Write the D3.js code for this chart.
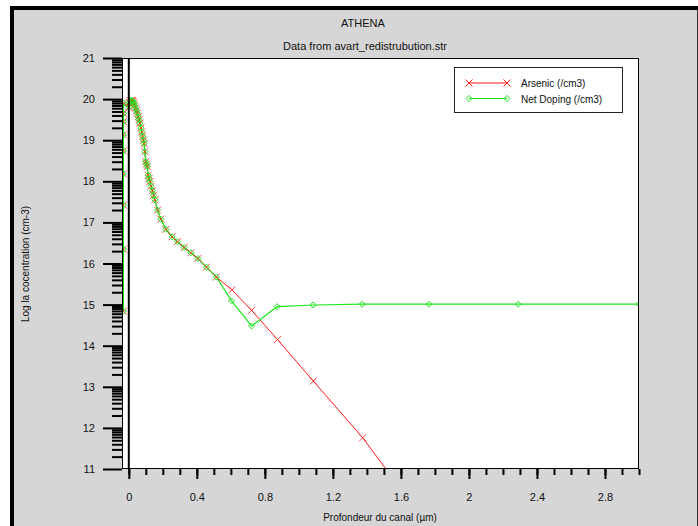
<!DOCTYPE html>
<html>
<head>
<meta charset="utf-8">
<script src="https://cdn.jsdelivr.net/npm/d3@7"></script>
<style>
  body { margin: 0; background: #fff; }
  svg text { font-family: "Liberation Sans", Arial, sans-serif; fill: #111; }
</style>
</head>
<body>
<svg id="chart" width="698" height="526"></svg>
<script>
// Depth (um) and log concentration values
var oxideDepth = [-0.032, -0.032, -0.032, -0.032, -0.032, -0.032, -0.032, -0.032, -0.032];
var oxideConc  = [14.84, 16.35, 17.42, 18.18, 18.74, 19.13, 19.45, 19.65, 19.90];

var depth   = [0.000, 0.005, 0.010, 0.015, 0.020, 0.025, 0.030, 0.035, 0.040, 0.045, 0.050, 0.055,
               0.060, 0.065, 0.071, 0.076, 0.081, 0.086, 0.090, 0.094, 0.100, 0.104, 0.108, 0.114,
               0.119, 0.124, 0.131, 0.139, 0.146, 0.153, 0.169, 0.188, 0.218,
               0.255, 0.286, 0.325, 0.365, 0.406, 0.456, 0.515];
var sharedConc = [19.80, 19.92, 19.96, 19.97, 19.96, 19.94, 19.90, 19.84, 19.78, 19.72, 19.66, 19.57,
               19.50, 19.41, 19.30, 19.20, 19.10, 19.00, 18.92, 18.72, 18.48, 18.42, 18.36, 18.15,
               18.07, 17.99, 17.88, 17.77, 17.66, 17.55, 17.30, 17.08, 16.83,
               16.65, 16.53, 16.39, 16.26, 16.12, 15.91, 15.67];

var arsenicTailDepth = [0.606, 0.722, 0.874, 1.085, 1.375, 1.765];
var arsenicTailConc  = [15.36, 14.86, 14.15, 13.14, 11.76, 9.60];

var dopingTailDepth = [0.604, 0.722, 0.872, 1.084, 1.372, 1.765, 2.290, 3.000];
var dopingTailConc  = [15.09, 14.48, 14.95, 14.99, 15.01, 15.01, 15.01, 15.01];

var xTicks = [0, 0.4, 0.8, 1.2, 1.6, 2, 2.4, 2.8];
var yTicks = [11, 12, 13, 14, 15, 16, 17, 18, 19, 20, 21];

var seriesNames = ["Arsenic (/cm3)", "Net Doping (/cm3)"];
var seriesColors = ["#ff1a1a", "#1ee61e"];

// Build the two series
function zipPts(xs, ys) { return xs.map(function(x, i) { return {x: x, y: ys[i]}; }); }
var arsenic = zipPts(oxideDepth, oxideConc).concat(zipPts(depth, sharedConc), zipPts(arsenicTailDepth, arsenicTailConc));
var doping  = zipPts(oxideDepth, oxideConc).concat(zipPts(depth, sharedConc), zipPts(dopingTailDepth, dopingTailConc));

var svg = d3.select("#chart");
var plot = {left: 122, right: 639, top: 58, bottom: 469};

// window frame
svg.append("rect").attr("x", 10).attr("y", 6).attr("width", 688).attr("height", 520).attr("fill", "#000");
svg.append("rect").attr("x", 14).attr("y", 10).attr("width", 684).attr("height", 516).attr("fill", "#d6d6d6");
svg.append("line").attr("x1", 697.5).attr("x2", 697.5).attr("y1", 10).attr("y2", 526)
  .attr("stroke", "#333").attr("stroke-width", 1);

var x = d3.scaleLinear().domain([-0.04, 3.0]).range([plot.left, plot.right]);
var y = d3.scaleLinear().domain([11, 21]).range([plot.bottom, plot.top]);

// titles
svg.append("text").attr("x", 363).attr("y", 27).attr("text-anchor", "middle")
  .style("font-size", "11px").text("ATHENA");
svg.append("text").attr("x", 365).attr("y", 50).attr("text-anchor", "middle")
  .style("font-size", "11px").text("Data from avart_redistrubution.str");

// plot background
svg.append("rect").attr("x", plot.left).attr("y", plot.top)
  .attr("width", plot.right - plot.left).attr("height", plot.bottom - plot.top)
  .attr("fill", "#fff");

svg.append("clipPath").attr("id", "clip").append("rect")
  .attr("x", plot.left).attr("y", plot.top)
  .attr("width", plot.right - plot.left).attr("height", plot.bottom - plot.top);

// y axis: major + log minor ticks
var yMinor = [];
yTicks.slice(0, -1).forEach(function(t) {
  for (var k = 2; k <= 9; k++) yMinor.push(t + Math.log10(k));
});
var yAxisG = svg.append("g").attr("transform", "translate(" + plot.left + ",0)");
yAxisG.call(d3.axisLeft(y).tickValues(yMinor).tickSize(10).tickFormat(""));
yAxisG.append("g").call(d3.axisLeft(y).tickValues(yTicks).tickSize(19).tickPadding(8).tickFormat(d3.format("d")));
yAxisG.selectAll(".domain").remove();
yAxisG.selectAll("line").attr("stroke", "#000").attr("stroke-width", 1);
yAxisG.selectAll("g g.tick line").attr("stroke-width", 2);
yAxisG.selectAll("text").style("font-size", "11px").style("font-family", "Liberation Sans, Arial, sans-serif").attr("fill", "#111");

// x axis: major + minor ticks
var xMinor = d3.range(0, 30.5).map(function(i) { return i / 10; });
var xAxisG = svg.append("g").attr("transform", "translate(0," + plot.bottom + ")");
xAxisG.call(d3.axisBottom(x).tickValues(xMinor).tickSize(6).tickFormat(""));
xAxisG.append("g").call(d3.axisBottom(x).tickValues(xTicks).tickSize(10).tickPadding(14).tickFormat(d3.format("")));
xAxisG.selectAll(".domain").remove();
xAxisG.selectAll("line").attr("stroke", "#000");
xAxisG.selectAll("g g.tick line").attr("stroke-width", 2);
xAxisG.selectAll("text").style("font-size", "11px").style("font-family", "Liberation Sans, Arial, sans-serif").attr("fill", "#111");

// axis titles
svg.append("text").attr("x", 380).attr("y", 521).attr("text-anchor", "middle")
  .style("font-size", "10px").text("Profondeur du canal (\u00b5m)");
svg.append("text").attr("transform", "translate(29,264) rotate(-90)").attr("text-anchor", "middle")
  .style("font-size", "10px").text("Log la cocentration (cm-3)");

// data
var line = d3.line().x(function(d) { return x(d.x); }).y(function(d) { return y(d.y); });
var g = svg.append("g").attr("clip-path", "url(#clip)");

g.append("path").datum(arsenic).attr("d", line)
  .attr("fill", "none").attr("stroke", seriesColors[0]).attr("stroke-width", 1);
g.append("path").datum(doping).attr("d", line)
  .attr("fill", "none").attr("stroke", seriesColors[1]).attr("stroke-width", 1.2);

function crossPath(s) { return "M" + -s + "," + -s + "L" + s + "," + s + "M" + -s + "," + s + "L" + s + "," + -s; }
function diamondPath(s) { return "M" + -s + ",0L0," + -s + "L" + s + ",0L0," + s + "Z"; }

g.selectAll(".mk-as").data(arsenic).enter().append("path")
  .attr("class", "mk-as")
  .attr("transform", function(d) { return "translate(" + x(d.x) + "," + y(d.y) + ")"; })
  .attr("d", crossPath(3.5)).attr("fill", "none")
  .attr("stroke", seriesColors[0]).attr("stroke-width", 1).attr("stroke-opacity", 0.8);
g.selectAll(".mk-nd").data(doping).enter().append("path")
  .attr("class", "mk-nd")
  .attr("transform", function(d) { return "translate(" + x(d.x) + "," + y(d.y) + ")"; })
  .attr("d", diamondPath(3)).attr("fill", "none")
  .attr("stroke", seriesColors[1]).attr("stroke-width", 1);

// frame of the plot and the zero line
svg.append("rect").attr("x", plot.left + 0.5).attr("y", plot.top + 0.5)
  .attr("width", plot.right - plot.left - 1).attr("height", plot.bottom - plot.top - 1)
  .attr("fill", "none").attr("stroke", "#000").attr("stroke-width", 1);
svg.append("line").attr("x1", x(0)).attr("x2", x(0)).attr("y1", plot.top).attr("y2", plot.bottom)
  .attr("stroke", "#000").attr("stroke-width", 2);

// legend
var leg = svg.append("g");
leg.append("rect").attr("x", 454.5).attr("y", 67.5).attr("width", 168).attr("height", 45)
  .attr("fill", "#fff").attr("stroke", "#222");
seriesNames.forEach(function(name, i) {
  var ly = 83 + i * 15.5;
  leg.append("line").attr("x1", 469).attr("x2", 507).attr("y1", ly).attr("y2", ly)
    .attr("stroke", seriesColors[i]).attr("stroke-width", 1.2);
  [469, 507].forEach(function(lx) {
    leg.append("path").attr("transform", "translate(" + lx + "," + ly + ")")
      .attr("d", i === 0 ? crossPath(3.5) : diamondPath(3))
      .attr("fill", "none").attr("stroke", seriesColors[i]);
  });
  leg.append("text").attr("x", 521).attr("y", ly + 4).style("font-size", "10px").text(name);
});
</script>
</body>
</html>
